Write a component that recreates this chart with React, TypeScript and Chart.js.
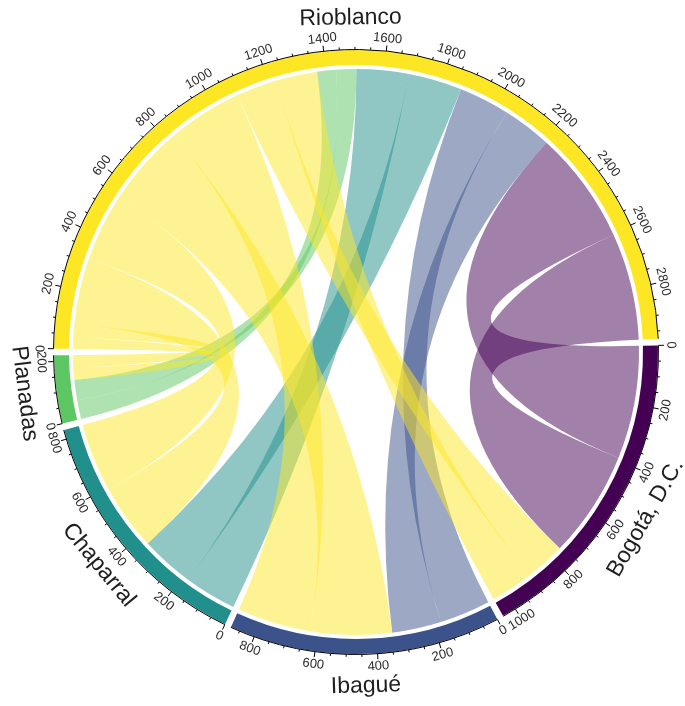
import React, { useEffect, useRef } from 'react';
import { Chart, registerables } from 'chart.js';

Chart.register(...registerables);

// ---- data ----
const SECTORS = ['Rioblanco', 'Bogotá, D.C.', 'Ibagué', 'Chaparral', 'Planadas'];
const SECTOR_COLORS = ['#FDE725', '#440154', '#3B528B', '#21908C', '#5DC863'];

const LINK_FROM = [
  'Bogotá, D.C.', 'Bogotá, D.C.',
  'Ibagué', 'Ibagué',
  'Chaparral', 'Chaparral',
  'Planadas', 'Planadas',
  'Rioblanco', 'Rioblanco',
  'Rioblanco', 'Rioblanco',
  'Rioblanco', 'Rioblanco',
  'Rioblanco', 'Rioblanco',
];
const LINK_TO = [
  'Rioblanco', 'Rioblanco',
  'Rioblanco', 'Rioblanco',
  'Rioblanco', 'Rioblanco',
  'Rioblanco', 'Rioblanco',
  'Planadas', 'Planadas',
  'Chaparral', 'Chaparral',
  'Ibagué', 'Ibagué',
  'Bogotá, D.C.', 'Bogotá, D.C.',
];
const LINK_VALUE = [
  390, 370,
  175, 170,
  180, 185,
  65, 70,
  40, 45,
  228, 237,
  280, 255,
  140, 145,
];

const MAJOR_STEP = 200;
const MINOR_STEP = 50;

// ---- layout constants ----
const GAP_DEG = 1.25;
const R_OUT = 302;
const R_IN = 287;
const R_LINK = 283;
const TICK_LABEL_R = 315;
const NAME_R = 334;

const N = SECTORS.length;
const SIZES = SECTORS.map((s) =>
  LINK_VALUE.reduce((acc, v, k) => acc + (LINK_FROM[k] === s || LINK_TO[k] === s ? v : 0), 0)
);
const TOTAL = SIZES.reduce((a, b) => a + b, 0);
const GAP_UNITS = (TOTAL * GAP_DEG) / (360 - N * GAP_DEG);

const RING_DATA: number[] = [];
const RING_COLORS: string[] = [];
const RING_LABELS: string[] = [];
SIZES.forEach((v, i) => {
  RING_DATA.push(v, GAP_UNITS);
  RING_COLORS.push(SECTOR_COLORS[i], 'rgba(0,0,0,0)');
  RING_LABELS.push(SECTORS[i], '');
});

// position of each link end inside its sector: [at from-sector, at to-sector]
const LINK_POS: number[][] = LINK_VALUE.map(() => [0, 0]);
SECTORS.forEach((s, i) => {
  const items: { k: number; end: number; partner: number }[] = [];
  LINK_VALUE.forEach((_, k) => {
    if (LINK_FROM[k] === s) items.push({ k, end: 0, partner: SECTORS.indexOf(LINK_TO[k]) });
    if (LINK_TO[k] === s) items.push({ k, end: 1, partner: SECTORS.indexOf(LINK_FROM[k]) });
  });
  items.sort(
    (a, b) =>
      a.end - b.end ||
      ((b.partner - i + N) % N) - ((a.partner - i + N) % N) ||
      a.k - b.k
  );
  let pos = 0;
  items.forEach((it) => {
    LINK_POS[it.k][it.end] = pos;
    pos += LINK_VALUE[it.k];
  });
});

function hexToRgba(hex: string, a: number) {
  const n = parseInt(hex.slice(1), 16);
  return `rgba(${(n >> 16) & 255},${(n >> 8) & 255},${n & 255},${a})`;
}

const chordPlugin = {
  id: 'chordPlugin',
  afterDatasetsDraw(chart: any) {
    const meta = chart.getDatasetMeta(0);
    const arcs = meta.data as any[];
    if (!arcs.length) return;
    const ctx: CanvasRenderingContext2D = chart.ctx;
    const cx = arcs[0].x;
    const cy = arcs[0].y;
    const rOut = arcs[0].outerRadius;
    const rLink = arcs[0].innerRadius - (R_IN - R_LINK);
    const angleOf = (i: number, pos: number) => {
      const a = arcs[2 * i];
      return a.startAngle + (pos / SIZES[i]) * (a.endAngle - a.startAngle);
    };

    // ribbons
    ctx.save();
    LINK_VALUE.forEach((v, k) => {
      const si = SECTORS.indexOf(LINK_FROM[k]);
      const ti = SECTORS.indexOf(LINK_TO[k]);
      const s0 = angleOf(si, LINK_POS[k][0]);
      const s1 = angleOf(si, LINK_POS[k][0] + v);
      const t0 = angleOf(ti, LINK_POS[k][1]);
      const t1 = angleOf(ti, LINK_POS[k][1] + v);
      ctx.beginPath();
      ctx.arc(cx, cy, rLink, s0, s1, false);
      ctx.quadraticCurveTo(cx, cy, cx + rLink * Math.cos(t0), cy + rLink * Math.sin(t0));
      ctx.arc(cx, cy, rLink, t0, t1, false);
      ctx.quadraticCurveTo(cx, cy, cx + rLink * Math.cos(s0), cy + rLink * Math.sin(s0));
      ctx.closePath();
      ctx.fillStyle = hexToRgba(SECTOR_COLORS[si], 0.5);
      ctx.fill();
    });
    ctx.restore();

    const rotFor = (phi: number) => {
      const p = Math.atan2(Math.sin(phi), Math.cos(phi));
      return p <= 0 ? p + Math.PI / 2 : p - Math.PI / 2;
    };

    // axis lines, ticks, tick labels
    ctx.save();
    ctx.strokeStyle = '#000';
    ctx.fillStyle = '#2b2b2b';
    ctx.font = '13px "Liberation Sans", Arial, sans-serif';
    ctx.textAlign = 'center';
    ctx.textBaseline = 'middle';
    SIZES.forEach((size, i) => {
      const a = arcs[2 * i];
      ctx.lineWidth = 1;
      ctx.beginPath();
      ctx.arc(cx, cy, rOut + 0.5, a.startAngle, a.endAngle, false);
      ctx.stroke();
      for (let v = 0; v <= size; v += MINOR_STEP) {
        const phi = angleOf(i, v);
        const major = v % MAJOR_STEP === 0;
        const len = major ? 6 : 3;
        ctx.beginPath();
        ctx.moveTo(cx + (rOut + 0.5) * Math.cos(phi), cy + (rOut + 0.5) * Math.sin(phi));
        ctx.lineTo(cx + (rOut + len) * Math.cos(phi), cy + (rOut + len) * Math.sin(phi));
        ctx.stroke();
        if (major) {
          ctx.save();
          ctx.translate(cx + TICK_LABEL_R * Math.cos(phi), cy + TICK_LABEL_R * Math.sin(phi));
          ctx.rotate(rotFor(phi));
          ctx.fillText(String(v), 0, 0);
          ctx.restore();
        }
      }
    });
    ctx.restore();

    // sector names
    ctx.save();
    ctx.fillStyle = '#1e1e1e';
    ctx.font = '23px "Liberation Sans", Arial, sans-serif';
    ctx.textAlign = 'center';
    ctx.textBaseline = 'middle';
    SECTORS.forEach((name, i) => {
      const a = arcs[2 * i];
      const phi = (a.startAngle + a.endAngle) / 2;
      ctx.save();
      ctx.translate(cx + NAME_R * Math.cos(phi), cy + NAME_R * Math.sin(phi));
      ctx.rotate(rotFor(phi));
      ctx.fillText(name, 0, 0);
      ctx.restore();
    });
    ctx.restore();
  },
};

export default function App() {
  const ref = useRef<HTMLCanvasElement>(null);
  useEffect(() => {
    if (!ref.current) return;
    const chart = new Chart(ref.current, {
      type: 'doughnut',
      data: {
        labels: RING_LABELS,
        datasets: [
          {
            data: RING_DATA,
            backgroundColor: RING_COLORS,
            borderWidth: 0,
            hoverOffset: 0,
          },
        ],
      },
      options: {
        responsive: false,
        animation: false,
        events: [],
        rotation: -90 + GAP_DEG / 2,
        radius: R_OUT,
        cutout: (R_IN / R_OUT) * 100 + '%',
        layout: { padding: { left: 27, right: 0, top: 0, bottom: 2 } },
        plugins: { legend: { display: false }, tooltip: { enabled: false } },
      } as any,
      plugins: [chordPlugin],
    });
    return () => chart.destroy();
  }, []);
  return (
    <div style={{ position: 'fixed', left: 0, top: 0, width: 685, height: 706, background: '#fff' }}>
      <canvas ref={ref} width={685} height={706} />
    </div>
  );
}
